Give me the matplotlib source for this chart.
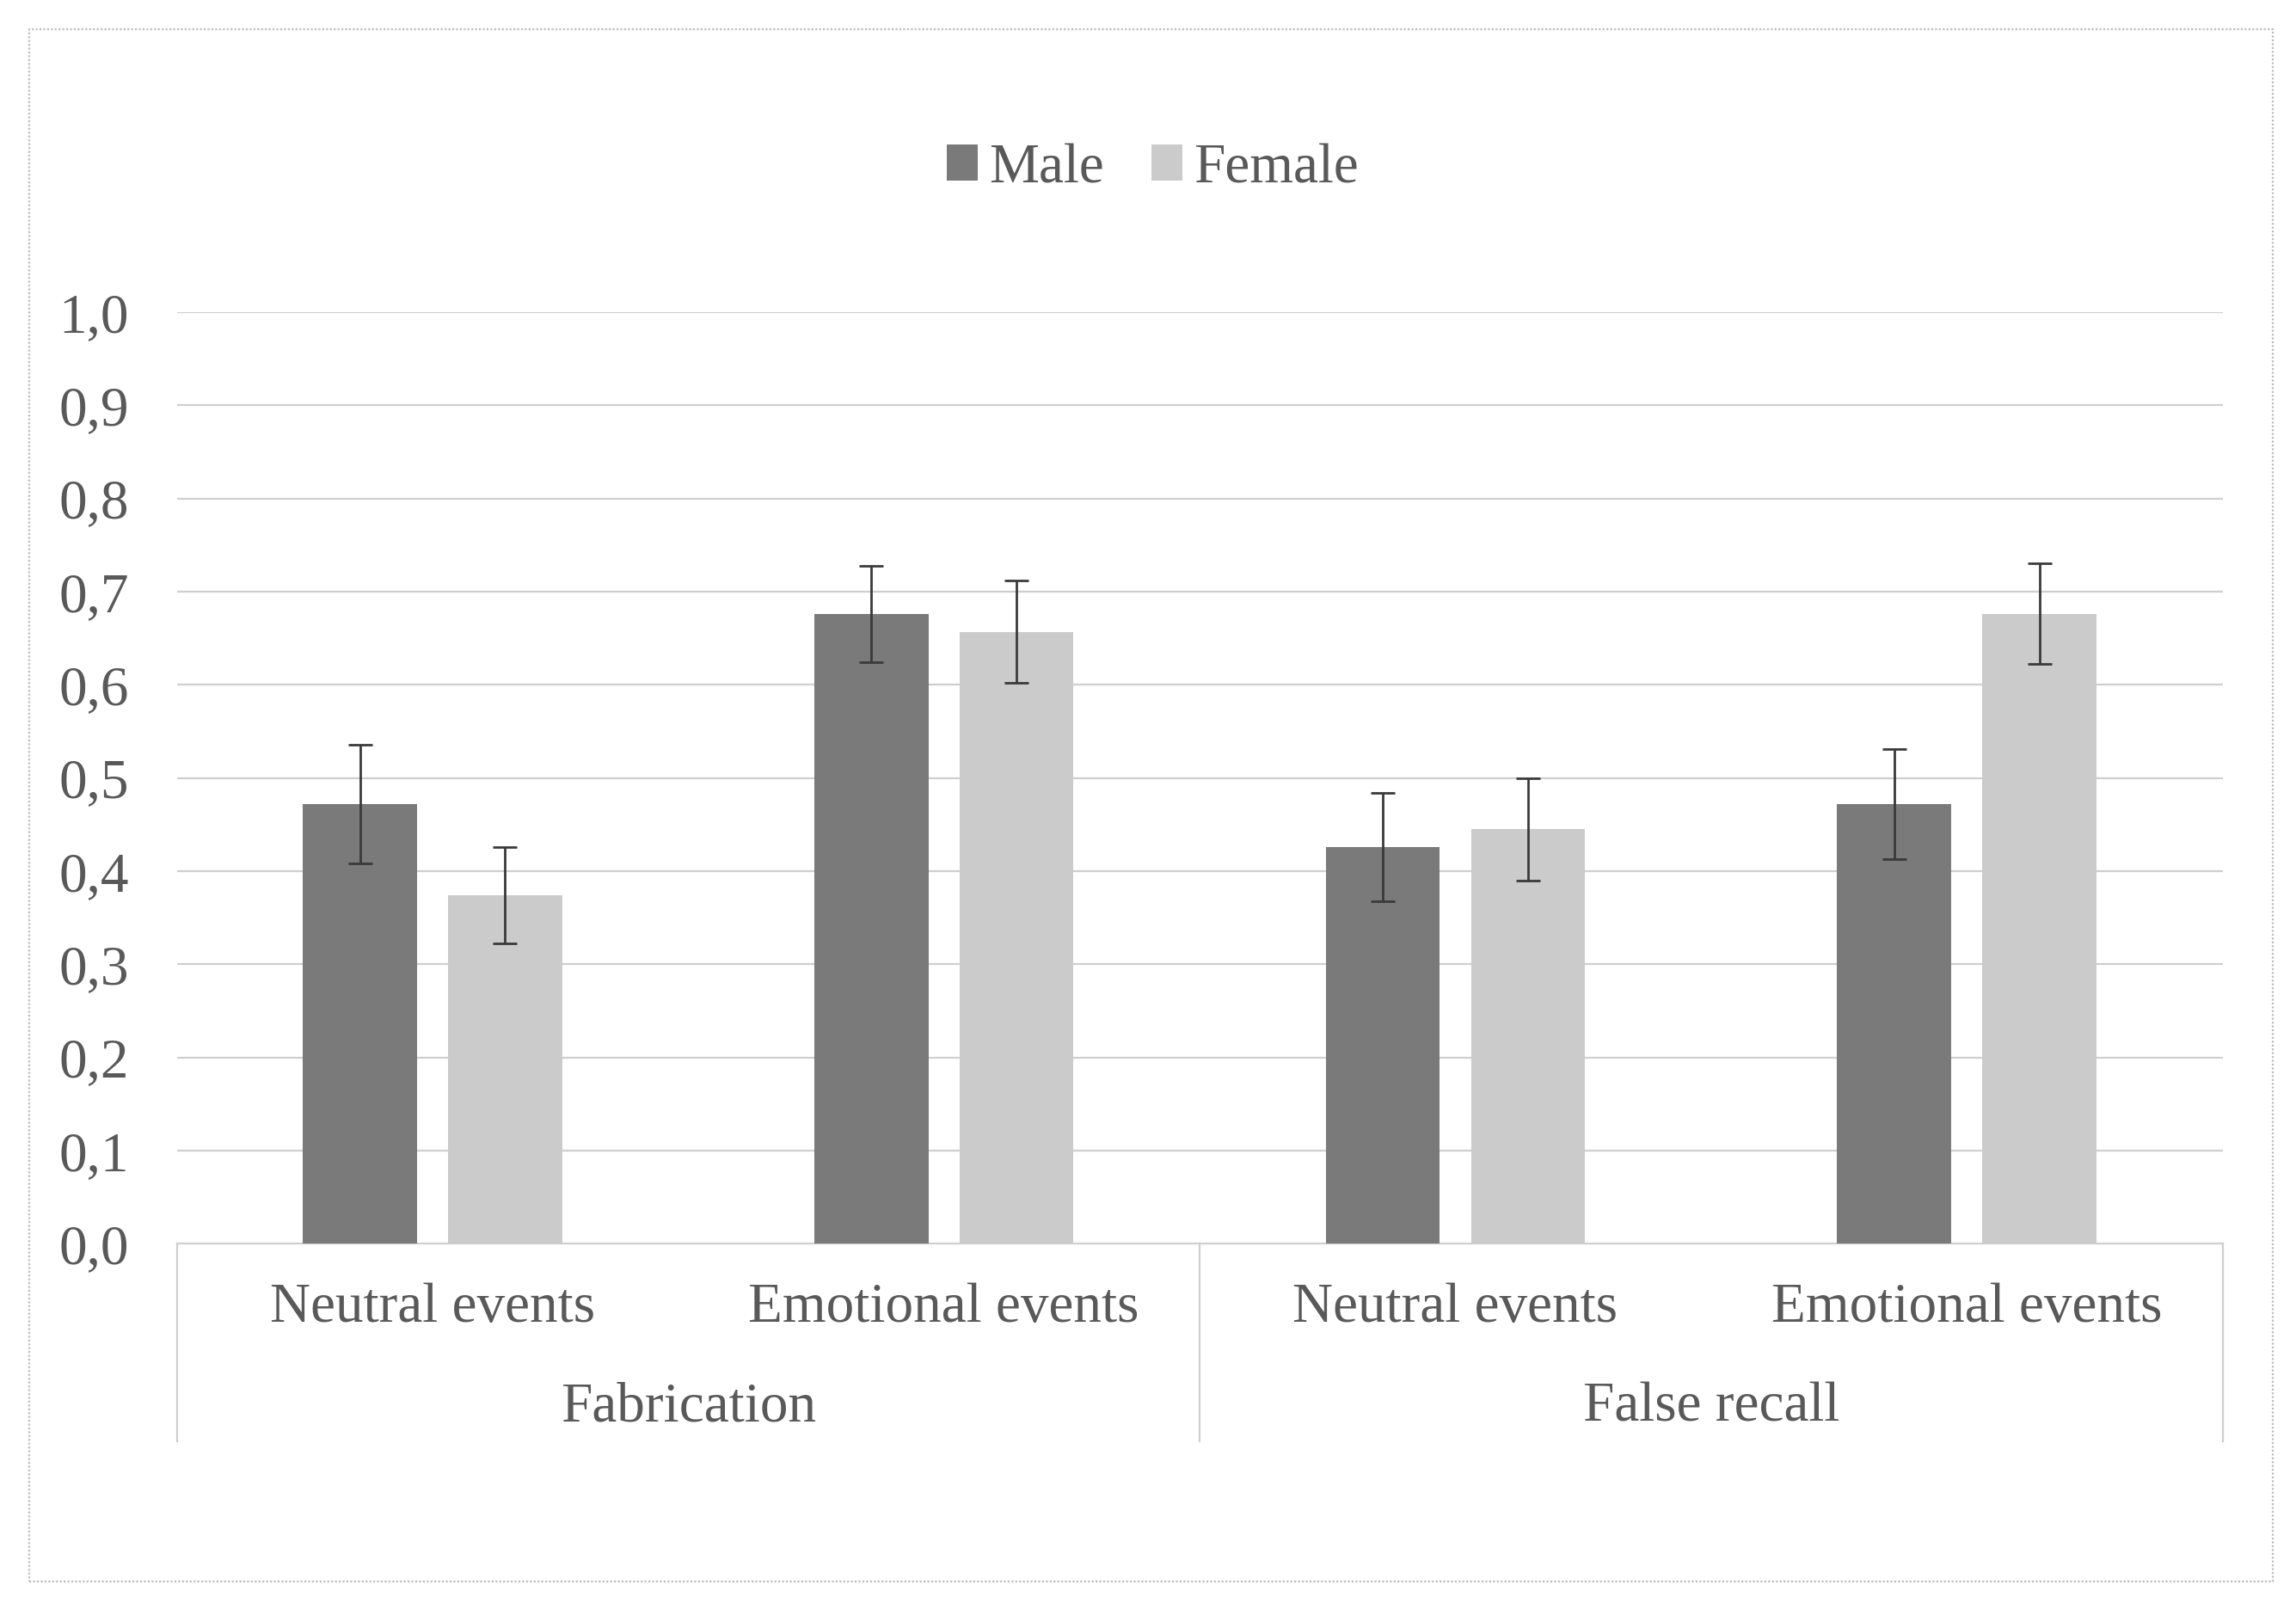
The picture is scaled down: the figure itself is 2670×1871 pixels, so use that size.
import matplotlib

matplotlib.use("Agg")
import matplotlib.pyplot as plt
import matplotlib.transforms as mtransforms
from matplotlib.patches import Rectangle
import numpy as np

# data
groups = ["Fabrication", "False recall"]
categories = ["Neutral events", "Emotional events", "Neutral events", "Emotional events"]
series = ["Male", "Female"]
male = [0.472, 0.676, 0.426, 0.472]
female = [0.374, 0.657, 0.445, 0.676]
male_err = [0.064, 0.052, 0.058, 0.059]
female_err = [0.052, 0.055, 0.055, 0.054]
yticks = [0.0, 0.1, 0.2, 0.3, 0.4, 0.5, 0.6, 0.7, 0.8, 0.9, 1.0]
ytick_labels = ["0,0", "0,1", "0,2", "0,3", "0,4", "0,5", "0,6", "0,7", "0,8", "0,9", "1,0"]

TEXT = "#595959"
GRID = "#cfcfcf"
plt.rcParams["font.family"] = ["Liberation Serif", "DejaVu Serif"]
FS = 23.5

fig = plt.figure(figsize=(13.35, 9.355), dpi=200)
ax = fig.add_axes([0.077, 0.227, 0.891, 0.579])

xs = np.arange(len(categories))
w, off = 0.223, 0.142
ekw = dict(ecolor="#3a3a3a", elinewidth=1.0, capsize=5, capthick=1.0)
ax.bar(xs - off, male, w, color="#7a7a7a", yerr=male_err, error_kw=ekw,
       label=series[0], zorder=3)
ax.bar(xs + off, female, w, color="#cbcbcb", yerr=female_err, error_kw=ekw,
       label=series[1], zorder=3)

ax.set_xlim(-0.5, len(categories) - 0.5)
ax.set_ylim(0, 1.0)
ax.set_yticks(yticks)
ax.set_yticklabels(ytick_labels)
ax.tick_params(axis="y", length=0, pad=20, labelsize=FS, labelcolor=TEXT)
ax.set_xticks([])
for y in yticks[1:]:
    ax.axhline(y, color=GRID, lw=0.8, zorder=1)
for s in ("top", "right", "left"):
    ax.spines[s].set_visible(False)
ax.spines["bottom"].set_color(GRID)
ax.spines["bottom"].set_linewidth(0.8)

# category / group labels below the axis, Excel-style boxes
tr = mtransforms.blended_transform_factory(ax.transData, fig.transFigure)
y_axis, y_box = 0.227, 0.104
for xv in (-0.5, 1.5, 3.5):
    ax.plot([xv, xv], [y_axis, y_box], color=GRID, lw=0.8, transform=tr,
            clip_on=False)
for x, lab in zip(xs, categories):
    ax.text(x, 0.187, lab, transform=tr, ha="center", va="center",
            fontsize=FS, color=TEXT)
for i, g in enumerate(groups):
    ax.text(2 * i + 0.5, 0.125, g, transform=tr, ha="center", va="center",
            fontsize=FS, color=TEXT)

fig.legend(loc="center", bbox_to_anchor=(0.502, 0.895), ncol=2, frameon=False,
           fontsize=FS, labelcolor=TEXT, handlelength=0.55, handleheight=0.62,
           handletextpad=0.2, columnspacing=0.85)

fig.patches.append(Rectangle((0.0128, 0.017), 0.977, 0.965, transform=fig.transFigure,
                             fill=False, edgecolor="#bdbdbd", lw=0.8, ls=(0, (1, 1))))

fig.savefig("out.png", dpi=200, facecolor="white")
